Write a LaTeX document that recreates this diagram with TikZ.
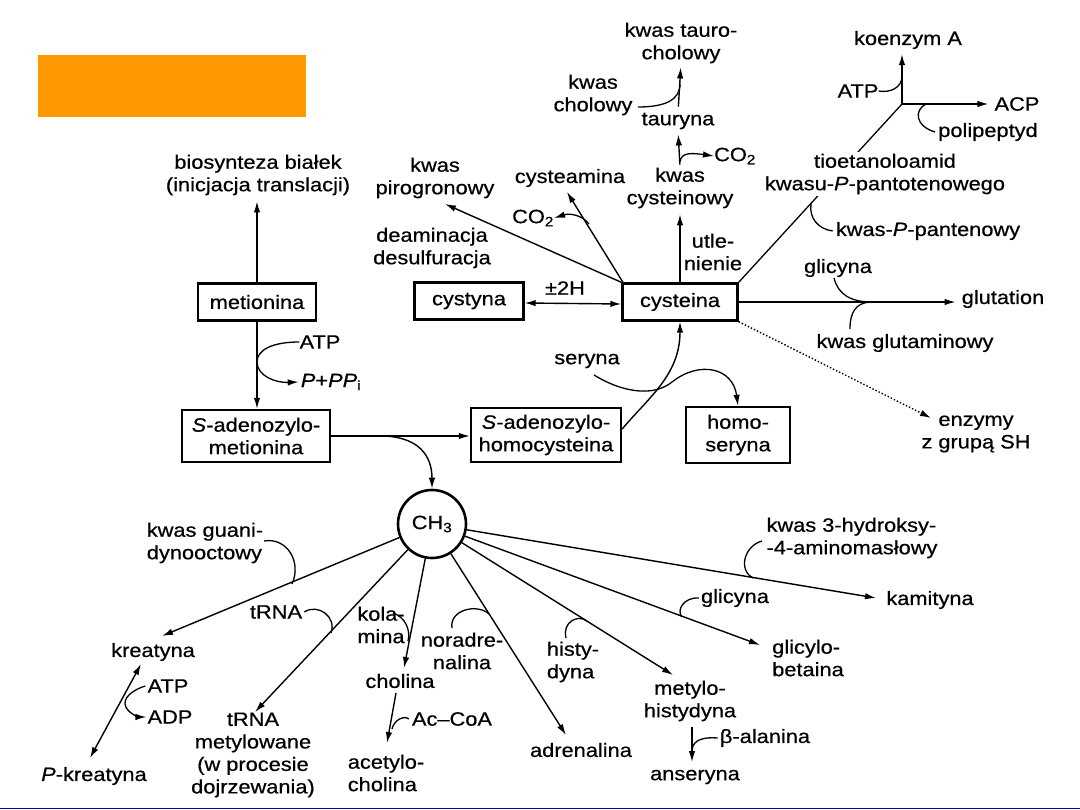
\documentclass[tikz,border=0pt]{standalone}
\usepackage{fontspec}
\setmainfont{Liberation Sans}[FakeStretch=1.13,FakeBold=0.6]
\usetikzlibrary{arrows.meta}
\definecolor{orng}{RGB}{255,153,0}
\definecolor{blu}{RGB}{0,0,200}
\begin{document}
\begin{tikzpicture}[x=1pt,y=-1pt,
  every node/.style={font=\fontsize{19.3}{22.5}\selectfont, inner sep=0pt, align=center},
  bx/.style={draw, line width=2.4pt},
  ln/.style={line width=1.3pt},
  arr/.style={-{Latex[length=11pt,width=6.5pt]}, line width=1.4pt},
  arrtwo/.style={{Latex[length=11pt,width=6.5pt]}-{Latex[length=11pt,width=6.5pt]}, line width=1.4pt}]
\useasboundingbox (0,0) rectangle (1080,810);
\fill[orng] (38,55) rectangle (306,117);
\draw[blu, line width=1.5pt] (0,808.5) -- (1080,808.5);

% ---- upper left
\node (bio) at (258,175) {biosynteza białek\\(inicjacja translacji)};
\node[bx, minimum width=118pt, minimum height=37pt] (met) at (257,302) {metionina};
\node (atp1) at (320,342) {ATP};
\node (ppr) at (331,382) {\textit{P}+\textit{PP}\textsubscript{i}};
\node[bx, minimum width=148pt, minimum height=52pt] (sam) at (256,436) {\textit{S}-adenozylo-\\metionina};
\node[bx, minimum width=150pt, minimum height=54pt] (sah) at (546,435) {\textit{S}-adenozylo-\\homocysteina};
\node[bx, minimum width=104pt, minimum height=56pt] (hom) at (738,435) {homo-\\seryna};

% ---- centre
\node[bx, minimum width=109pt, minimum height=37pt] (cyst) at (469,301) {cystyna};
\node[bx, minimum width=115pt, minimum height=37pt] (cys) at (680,302) {cysteina};
\node (pm) at (565,288) {±2H};
\node (pir) at (435,178) {kwas\\pirogronowy};
\node (deam) at (432,248) {deaminacja\\desulfuracja};
\node (cyam) at (570,178) {cysteamina};
\node (co2a) at (533,218) {CO\textsubscript{2}};
\node (kcys) at (680,188) {kwas\\cysteinowy};
\node (utl) at (713,252) {utle-\\nienie};
\node (co2b) at (735,156) {CO\textsubscript{2}};
\node (taur) at (678,121) {tauryna};
\node (kchol) at (593,95) {kwas\\cholowy};
\node (ktc) at (681,43) {kwas tauro-\\cholowy};

% ---- upper right
\node (koen) at (908,40) {koenzym A};
\node (atp2) at (858,91) {ATP};
\node (acp) at (1017,104) {ACP};
\node (poli) at (988,132) {polipeptyd};
\coordinate (J) at (902,104);
\draw[ln] (cys.north east) -- (J);
\node[fill=white, inner sep=2pt] (tio) at (885,174) {tioetanoloamid\\kwasu-\textit{P}-pantotenowego};
\node (pant) at (928,231) {kwas-\textit{P}-pantenowy};
\node (gli1) at (838,268) {glicyna};
\node (glut) at (1003,299) {glutation};
\node (kglu) at (905,343) {kwas glutaminowy};
\node (ser) at (587,361) {seryna};
\node (enz) at (976,434) {enzymy\\z grupą SH};

% ---- lower
\node[draw, circle, line width=2.6pt, minimum size=68pt] (ch3) at (432,524) {CH\textsubscript{3}};
\node[align=left] (guan) at (205,543) {kwas guani-\\dynooctowy};
\node (kre) at (153,652) {kreatyna};
\node (atp3) at (168,686) {ATP};
\node (adp) at (170,717) {ADP};
\node (pkre) at (94,776) {\textit{P}-kreatyna};
\node (trna1) at (276,612) {tRNA};
\node (trna2) at (253,755) {tRNA\\metylowane\\(w procesie\\dojrzewania)};
\node[align=left] (kola) at (381,625) {kola-\\mina};
\node (chol) at (400,681) {cholina};
\node (acoa) at (452,719) {Ac--CoA};
\node[align=left] (acch) at (386,773) {acetylo-\\cholina};
\node (nor) at (462,651) {noradre-\\nalina};
\node (adr) at (581,750) {adrenalina};
\node[align=left] (his) at (573,662) {histy-\\dyna};
\node (mhis) at (690,701) {metylo-\\histydyna};
\node (bala) at (765,738) {β-alanina};
\node (ans) at (695,777) {anseryna};
\node (gli2) at (735,598) {glicyna};
\node[align=left] (gbet) at (808,658) {glicylo-\\betaina};
\node[align=left] (k3h) at (852,538) {kwas 3-hydroksy-\\-4-aminomasłowy};
\node (kam) at (930,600) {kamityna};

% ---- connectors upper left
\draw[arr, shorten >=6pt] (met.north) -- (met.north |- bio.south);
\draw[arr] (met.south) -- (met.south |- sam.north);
\draw[ln, -{Latex[length=11pt,width=6.5pt]}] (atp1.west) .. controls (272,342) and (257,350) .. (257,362)
   .. controls (257,376) and (276,383) .. ([xshift=-2pt]ppr.west);
\draw[arr] (sam.east) -- (sam.east -| sah.west);
\coordinate (j1) at (380,436);
\draw[arr] (j1) .. controls (418,436) and (432,455) .. (ch3.north);

% ---- centre connectors
\draw[arrtwo] ([yshift=-2pt]cyst.east) -- ([yshift=-2pt]cys.west);
\coordinate (pirtip) at (445,204);
\draw[arr] (cys.north west) -- (pirtip);
\coordinate (cyb) at (624,284);
\coordinate (cyamtip) at (567,192);
\draw[arr] (cyb) -- (cyamtip);
\coordinate (c2s) at (589,224);
\draw[ln, -{Latex[length=11pt,width=6.5pt]}] (c2s) .. controls (582,215) and (570,213) .. (co2a.east);
\draw[arr, shorten >=6pt] (cys.north) -- (kcys.south);
\draw[arr, shorten >=5pt, shorten <=3pt] (kcys.north) -- (taur.south);
\coordinate (c3s) at (680,162);
\draw[ln, -{Latex[length=11pt,width=6.5pt]}] (c3s) .. controls (681,152) and (692,153) .. (co2b.west);
\draw[arr, shorten >=4pt, shorten <=6pt] (taur.north) -- (ktc.south);
\coordinate (kcs) at (638,107);
\draw[ln] (kcs) .. controls (665,107) and (680,100) .. (680,84);

% ---- upper right connectors
\draw[arr, shorten >=5pt] (J) -- (J |- koen.south);
\draw[ln] (atp2.east) .. controls (890,93) and (902,88) .. (902,76);
\draw[arr, shorten >=6pt] (J) -- (J -| acp.west);
\coordinate (pps) at (926,104);
\draw[ln] (pps) .. controls (914,110) and (915,126) .. ([xshift=-3pt]poli.west);
\coordinate (pts) at (811,204);
\draw[ln] (pts) .. controls (809,218) and (818,229) .. ([xshift=-3pt]pant.west);
\draw[arr, shorten >=6pt] (cys.east) -- (cys.east -| glut.west);
\coordinate (g1s) at (834,278);
\draw[ln] (g1s) .. controls (838,294) and (850,302) .. (872,302);
\coordinate (kgs) at (850,329);
\draw[ln] (kgs) .. controls (850,312) and (856,303) .. (870,302);
\coordinate (enztip) at (931,418);
\draw[arr, dotted] (cys.south east) -- (enztip);
\draw[arr] ([yshift=6pt]sah.east) .. controls (648,398) and (680,375) .. (cys.south);
\coordinate (ss) at (594,375);
\draw[ln, -{Latex[length=11pt,width=6.5pt]}] (ss) .. controls (625,394) and (655,396) .. (672,382)
   .. controls (700,360) and (733,368) .. (hom.north);

% ---- CH3 spokes
\coordinate (t1) at (162,636);
\coordinate (t2) at (255,712);
\coordinate (t3) at (404,668);
\coordinate (t4) at (566,735);
\coordinate (t5) at (673,675);
\coordinate (t6) at (760,645);
\coordinate (t7) at (876,598);
\foreach \t in {t1,t2,t3,t4,t5,t6,t7} {\draw[arr] (ch3) -- (\t);}

% side curves
\coordinate (gs) at (264,541);
\draw[ln] (gs) .. controls (287,537) and (302,562) .. (292,584);
\draw[ln] ([xshift=2pt]trna1.east) .. controls (318,603) and (337,617) .. (331,633);
\coordinate (ks) at (393,613);
\draw[ln] (ks) .. controls (405,617) and (411,630) .. (408,641);
\coordinate (ns) at (452,628);
\draw[ln] (ns) .. controls (449,610) and (477,603) .. (489,614);
\coordinate (hs) at (566,638);
\draw[ln] (hs) .. controls (562,622) and (578,614) .. (587,621);
\draw[ln] ([xshift=-2pt]gli2.west) .. controls (684,597) and (676,610) .. (682,617);
\coordinate (k3s) at (762,541);
\draw[ln] (k3s) .. controls (744,546) and (738,570) .. (753,578);

% kreatyna
\coordinate (kt) at (141,664);
\coordinate (pkt) at (90,758);
\draw[arrtwo] (kt) -- (pkt);
\draw[ln, -{Latex[length=11pt,width=6.5pt]}] ([xshift=-2pt]atp3.west) .. controls (138,688) and (124,695) .. (125,704)
   .. controls (126,713) and (140,717) .. ([xshift=-1pt]adp.west);
% cholina
\coordinate (cs) at (396,693);
\coordinate (ct) at (387,743);
\draw[arr] (cs) -- (ct);
\draw[ln] ([xshift=-3pt]acoa.west) .. controls (404,715) and (394,720) .. (392,729);
% metylohistydyna
\coordinate (ms) at (692,727);
\coordinate (mt) at (692,762);
\draw[arr] (ms) -- (mt);
\draw[ln] ([xshift=-2pt]bala.west) .. controls (705,737) and (693,739) .. (692,750);
\end{tikzpicture}
\end{document}
